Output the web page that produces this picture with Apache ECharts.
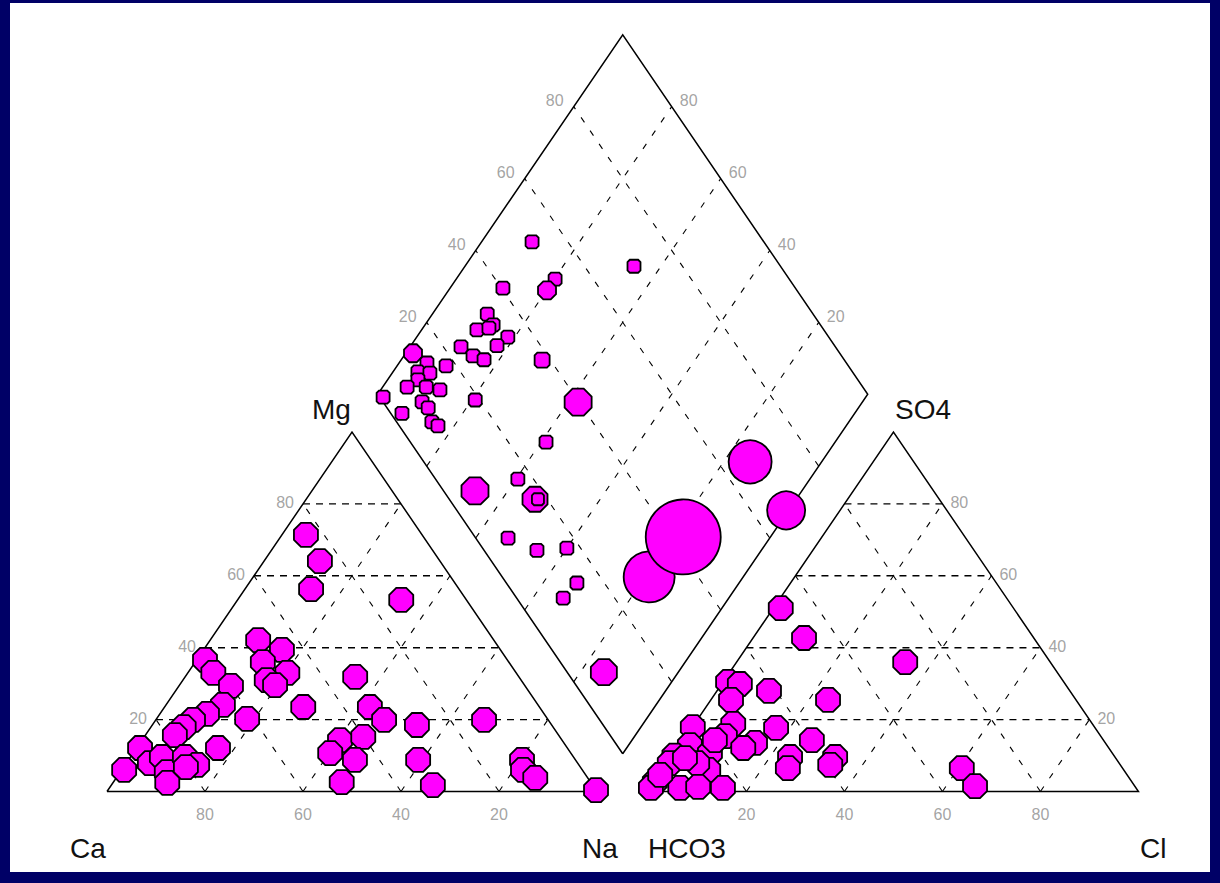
<!DOCTYPE html>
<html><head><meta charset="utf-8">
<script src="https://cdn.jsdelivr.net/npm/echarts@6/dist/echarts.min.js"></script>
<style>html,body{margin:0;padding:0;background:#fff;}#c{width:1220px;height:883px;}</style>
</head><body><div id="c"></div>
<script>
// ---- data ----
const tickValues = [20, 40, 60, 80];
// cation triangle (Ca at left, Na at right, Mg at apex), percent
const catNa = [4.9,11.4,13.5,33.4,9.8,16.0,13.8,20.3,17.1,19.5,1.7,5.2,10.6,11.6,9.6,7.6,6.7,6.0,18.5,16.6,0.7,4.8,0.5,6.4,9.5,11.1,11.1,14.7,12.7,28.3,34.7,41.9,46.6,40.4,44.7,40.2,46.2,46.6,54.0,59.1,65.6,67.0,80.3,81.9,85.5,99.6];
const catMg = [71.4,64.1,56.3,53.3,42.1,39.4,36.0,33.0,31.0,29.6,36.6,33.0,29.4,24.1,21.6,19.9,17.9,15.7,20.2,12.1,12.1,7.9,6.0,9.6,5.4,2.4,9.6,7.4,6.8,23.5,31.9,23.5,19.9,14.3,15.2,10.7,8.8,2.6,18.5,8.8,1.8,19.9,8.8,6.0,3.8,0.4];
// anion triangle (HCO3 at left, Cl at right, SO4 at apex), percent
const anCl = [1.5,10.4,34.4,1.0,3.7,10.6,4.1,23.9,17.2,0.1,7.9,7.9,15.0,26.2,13.3,2.0,0.3,7.2,24.1,33.3,25.2,33.4,0.4,9.2,6.0,0.0,6.0,9.5,14.7,0.0,60.7,65.9,2.8,6.4,0.1];
const anSO4 = [51.0,42.7,36.0,30.5,29.9,28.0,25.5,25.5,17.7,17.9,18.8,15.4,13.5,14.3,12.1,12.9,10.0,10.7,9.6,9.6,6.5,7.4,7.9,6.0,7.9,2.6,1.0,1.3,1.0,1.0,6.5,1.5,9.3,14.3,4.6];
// diamond: a = Ca+Mg %, b = SO4+Cl %, marker size
const dmA = [58.0,14.6,0.5,19.2,17.8,66.7,53.3,15.2,52.7,59.0,59.6,53.4,45.8,40.0,33.1,33.8,89.7,89.2,79.8,79.9,88.8,86.1,88.7,81.4,82.4,89.6,85.9,83.1,71.2,98.5,94.3,90.0,94.9,92.3,93.8,95.0,91.1,87.9,98.5,79.3,89.9,87.8,92.4,85.1,83.3,65.5,86.5];
const dmB = [39.8,66.6,67.2,30.0,42.5,6.4,17.5,7.5,18.1,27.7,16.8,6.6,10.8,17.2,14.4,9.5,52.7,40.3,52.2,49.0,33.5,33.2,29.2,34.5,31.1,23.6,24.8,26.5,38.3,12.9,14.4,17.9,11.3,13.6,10.2,7.0,10.9,13.3,0.7,19.1,8.0,8.4,2.3,7.2,7.9,70.1,31.9];
const dmSize = [27,43,38,51,75,27,25,26,12,13,13,13,13,13,13,13,13,13,13,18,13,13,13,13,13,13,13,13,15,18,13,13,13,13,13,13,13,13,13,13,13,13,13,13,13,13,13];

// ---- geometry ----
const G = 10.5;
const Lt = (na, mg) => [na + mg / 2, mg];
const Rt = (cl, so4) => [100 + G + cl + so4 / 2, so4];
const Dm = (a, b) => [100 + G / 2 + (b - a) / 2, G + a + b];

const outlines = [
  [Lt(0,0), Lt(100,0), Lt(0,100), Lt(0,0)],
  [Rt(0,0), Rt(100,0), Rt(0,100), Rt(0,0)],
  [Dm(0,0), Dm(0,100), Dm(100,100), Dm(100,0), Dm(0,0)]
];
const hLines = [], dLines = [];
tickValues.forEach(v => {
  hLines.push([Lt(0,v), Lt(100-v,v)], [Rt(0,v), Rt(100-v,v)]);
  dLines.push([Lt(v,0), Lt(v,100-v)], [Lt(100-v,0), Lt(0,100-v)]);
  dLines.push([Rt(v,0), Rt(v,100-v)], [Rt(100-v,0), Rt(0,100-v)]);
  dLines.push([Dm(v,0), Dm(v,100)], [Dm(0,v), Dm(100,v)]);
});

const oct = 'path://M29.3,0L70.7,0L100,29.3L100,70.7L70.7,100L29.3,100L0,70.7L0,29.3Z';
const sq = 'path://M18,0L82,0L100,18L100,82L82,100L18,100L0,82L0,18Z';
const symFn = v => v[2] < 16 ? sq : (v[2] > 32 ? 'circle' : oct);
const mStyle = { color: '#FF00FF', borderColor: '#000', borderWidth: 1.8, opacity: 1 };

const leftData = catNa.map((n, i) => [...Lt(n, catMg[i]), 24]);
const rightData = anCl.map((c, i) => [...Rt(c, anSO4[i]), 24]);
const dmData = dmA.map((a, i) => [...Dm(a, dmB[i]), dmSize[i]]);

function tickSeries(pts, align, offset) {
  return {
    type: 'scatter', symbolSize: 0, silent: true, z: 5,
    data: pts.map(p => ({ value: [p[0][0], p[0][1], p[1]] })),
    label: { show: true, position: 'inside', align: align, verticalAlign: 'middle', offset: offset,
      formatter: p => String(p.value[2]), color: '#8c8c8c', fontSize: 16,
      fontFamily: 'Liberation Sans, Arial, sans-serif' }
  };
}

const xMin = -107 / 4.9, xMax = (1220 - 107) / 4.9;
const yMin = -(883 - 791.5) / 3.595, yMax = 791.5 / 3.595;

const chart = echarts.init(document.getElementById('c'), null, { renderer: 'svg' });
const lf = '28px "Liberation Sans", Arial, sans-serif';
const frame = '#000066';
chart.setOption({
  animation: false,
  backgroundColor: '#fff',
  grid: { left: 0, right: 0, top: 0, bottom: 0 },
  xAxis: { type: 'value', min: xMin, max: xMax, show: false },
  yAxis: { type: 'value', min: yMin, max: yMax, show: false },
  graphic: [
    { type: 'rect', shape: { x: 0, y: 0, width: 10, height: 883 }, style: { fill: frame }, z: 100 },
    { type: 'rect', shape: { x: 0, y: 0, width: 1220, height: 3 }, style: { fill: frame }, z: 100 },
    { type: 'rect', shape: { x: 1210, y: 0, width: 10, height: 883 }, style: { fill: frame }, z: 100 },
    { type: 'rect', shape: { x: 0, y: 872, width: 1220, height: 11 }, style: { fill: frame }, z: 100 },
    { type: 'text', x: 70, y: 848, style: { text: 'Ca', font: lf, fill: '#111', verticalAlign: 'middle' }, z: 50 },
    { type: 'text', x: 582, y: 848, style: { text: 'Na', font: lf, fill: '#111', verticalAlign: 'middle' }, z: 50 },
    { type: 'text', x: 648, y: 848, style: { text: 'HCO3', font: lf, fill: '#111', verticalAlign: 'middle' }, z: 50 },
    { type: 'text', x: 1140, y: 848, style: { text: 'Cl', font: lf, fill: '#111', verticalAlign: 'middle' }, z: 50 },
    { type: 'text', x: 312, y: 409, style: { text: 'Mg', font: lf, fill: '#111', verticalAlign: 'middle' }, z: 50 },
    { type: 'text', x: 895, y: 409, style: { text: 'SO4', font: lf, fill: '#111', verticalAlign: 'middle' }, z: 50 }
  ],
  series: [
    { type: 'lines', coordinateSystem: 'cartesian2d', polyline: true, silent: true, z: 1,
      lineStyle: { color: '#000', width: 1.4, type: [7, 6], opacity: 1 }, data: hLines.map(c => ({ coords: c })) },
    { type: 'lines', coordinateSystem: 'cartesian2d', polyline: true, silent: true, z: 1,
      lineStyle: { color: '#000', width: 1.1, type: [6, 10], opacity: 1 }, data: dLines.map(c => ({ coords: c })) },
    { type: 'lines', coordinateSystem: 'cartesian2d', polyline: true, silent: true, z: 2,
      lineStyle: { color: '#000', width: 1.5, type: 'solid', opacity: 1 }, data: outlines.map(c => ({ coords: c })) },
    { type: 'scatter', z: 3, data: leftData, symbol: symFn, symbolSize: v => v[2], itemStyle: mStyle },
    { type: 'scatter', z: 3, data: rightData, symbol: symFn, symbolSize: v => v[2], itemStyle: mStyle },
    { type: 'scatter', z: 3, data: dmData, symbol: symFn, symbolSize: v => v[2], itemStyle: mStyle },
    tickSeries(tickValues.map(v => [Lt(100 - v, 0), v]), 'center', [0, 23]),
    tickSeries(tickValues.map(v => [Lt(0, v), v]), 'right', [-9, -1]),
    tickSeries(tickValues.map(v => [Rt(v, 0), v]), 'center', [0, 23]),
    tickSeries(tickValues.map(v => [Rt(100 - v, v), v]), 'left', [8, -1]),
    tickSeries(tickValues.map(v => [Dm(100, v), v]), 'center', [-19, -6]),
    tickSeries(tickValues.map(v => [Dm(v, 100), v]), 'center', [17, -6])
  ]
});
</script></body></html>
